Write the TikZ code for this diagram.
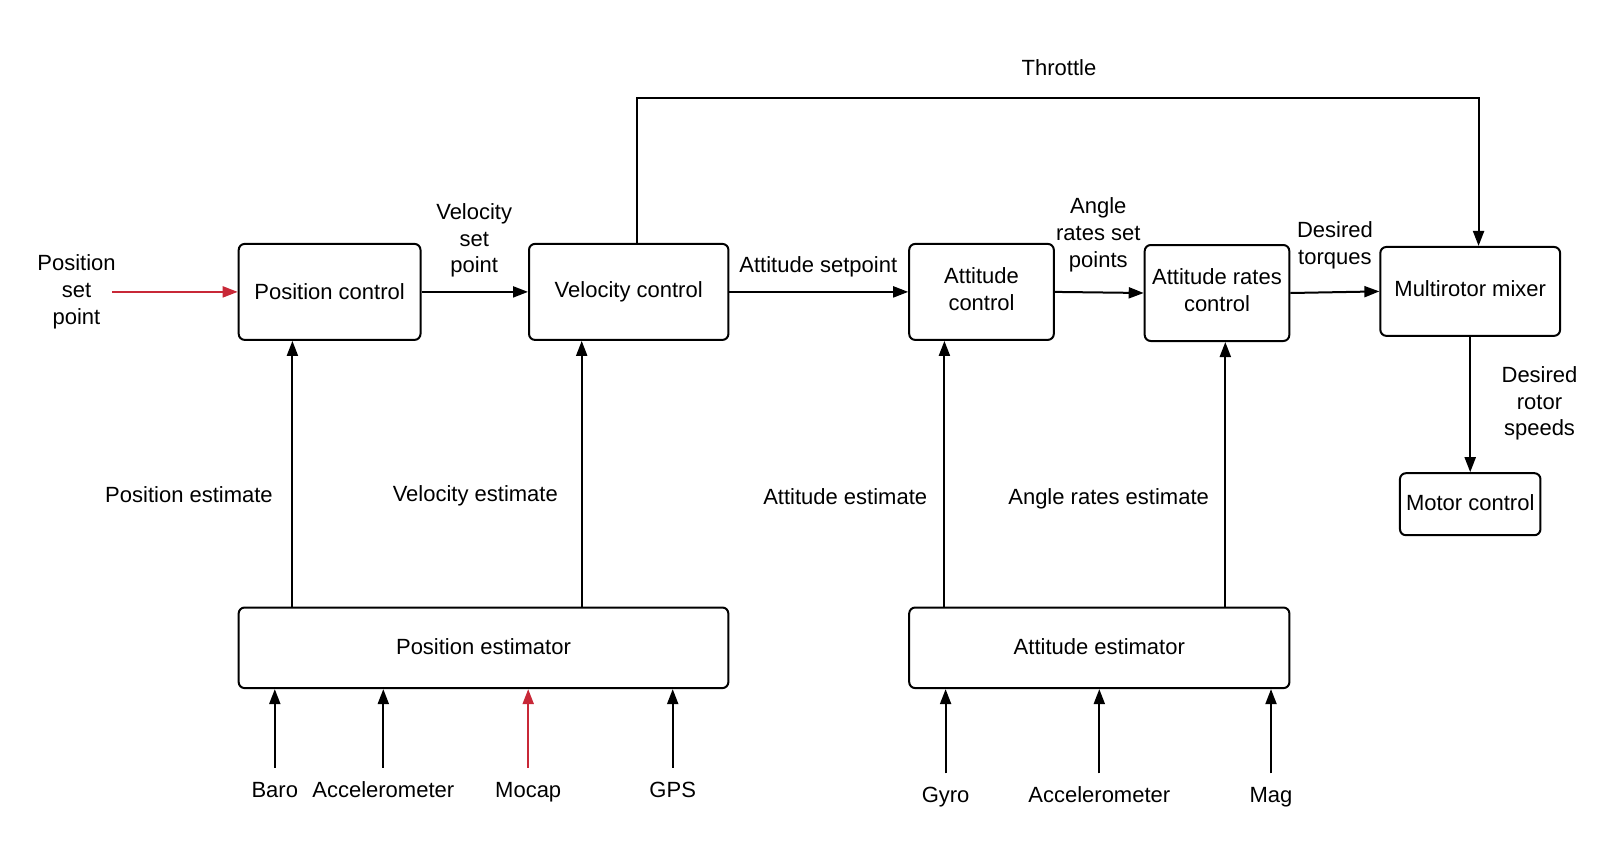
\documentclass[tikz,border=0pt]{standalone}
\usepackage{fontspec}
\setmainfont{Liberation Sans}
\usepackage{xcolor}
\usepackage{tikz}
\usetikzlibrary{arrows.meta,positioning,calc}
\definecolor{setred}{RGB}{200,40,55}

\begin{document}
\begin{tikzpicture}[
  x=0.5pt, y=-0.5pt,
  every node/.style={font=\fontsize{11}{13.4}\selectfont},
  box/.style={draw, line width=1pt, rectangle, rounded corners=3pt, align=center, inner sep=0pt},
  lbl/.style={align=center, inner sep=1pt},
  sensor/.style={anchor=base, text height=8pt, text depth=0pt, inner xsep=2pt, inner ysep=6.5pt},
  arr/.style={-{Triangle[length=7.5pt, width=5.5pt]}, line width=1pt},
  redarr/.style={arr, setred},
]
\useasboundingbox (0,0) rectangle (1620,862);

\node[box, minimum width=90.9pt, minimum height=48pt] (pc) at (329.6,291.9) {Position control};
\node[box, minimum width=99.7pt, minimum height=48pt] (vc) at (628.7,291.9) {Velocity control};
\node[box, minimum width=72.3pt, minimum height=48pt, text depth=3pt] (ac) at (981.5,291.9) {Attitude\\control};
\node[box, minimum width=72.3pt, minimum height=48pt, text depth=3pt] (arc) at (1217,293) {Attitude rates\\control};
\node[box, minimum width=89.85pt, minimum height=44.45pt, text depth=3pt] (mix) at (1470.2,291.4) {Multirotor mixer};
\node[box, minimum width=70.25pt, minimum height=31pt, text depth=2pt] (mot) at (1470.2,504.2) {Motor control};
\node[box, minimum width=244.85pt, minimum height=40.3pt, text depth=1pt] (pest) at (483.5,647.8) {Position estimator};
\node[box, minimum width=190.1pt, minimum height=40.3pt, text depth=1pt] (aest) at (1099.3,647.8) {Attitude estimator};

\node[lbl] (possp) at (76.5,291.8) {Position\\set\\point};
\node[lbl] (velsp) at (474.2,240.5) {Velocity\\set\\point};
\node[lbl] (attsp) at (818.3,266.5) {Attitude setpoint};
\node[lbl] (ratesp) at (1098.3,235) {Angle\\rates set\\points};
\node[lbl] (torq) at (1334.9,245.3) {Desired\\torques};
\node[lbl] (speeds) at (1539.5,403.5) {Desired\\rotor\\speeds};
\node[lbl] (thr) at (1059,67.2) {Throttle};
\node[lbl] (posest) at (189,495) {Position estimate};
\node[lbl] (velest) at (475.3,495.9) {Velocity estimate};
\node[lbl] (attest) at (845.2,497) {Attitude estimate};
\node[lbl] (rateest) at (1108.6,499) {Angle rates estimate};

\node[sensor] (baro) at (274.8,797.3) {Baro};
\node[sensor] (acc1) at (383.3,797.3) {Accelerometer};
\node[sensor] (mocap) at (528.2,797.3) {Mocap};
\node[sensor] (gps) at (672.7,797.3) {GPS};
\node[sensor] (gyro) at (945.6,802.7) {Gyro};
\node[sensor] (acc2) at (1099.3,802.7) {Accelerometer};
\node[sensor] (mag) at (1271,802.7) {Mag};

\coordinate (pfeed) at ([xshift=27.35pt]pc.south west);
\coordinate (vfeed) at ([xshift=26.85pt]vc.south west);
\coordinate (afeed) at ([xshift=18.1pt]ac.south west);
\coordinate (rfeed) at ([xshift=40.8pt]arc.south west);
\coordinate (throut) at ([xshift=54.65pt]vc.north west);
\coordinate (thrin) at ([xshift=49.6pt]mix.north west);

\draw[redarr] ($(pc.west -| possp.east)+(-3pt,0)$) -- (pc.west);
\draw[arr] (pc) -- (vc);
\draw[arr] (vc) -- (ac);
\draw[arr] (ac.east) -- (arc.west);
\draw[arr] (arc.east) -- (mix.west);
\draw[arr] (mix) -- (mot);
\draw[arr] (throut) -- ++(0,72.3pt) -| (thrin);
\draw[arr] (pfeed |- pest.north) -- (pfeed);
\draw[arr] (vfeed |- pest.north) -- (vfeed);
\draw[arr] (afeed |- aest.north) -- (afeed);
\draw[arr] (rfeed |- aest.north) -- (rfeed);
\foreach \s in {baro,acc1,gps} \draw[arr] (\s) -- (\s |- pest.south);
\draw[redarr] (mocap) -- (mocap |- pest.south);
\foreach \s in {gyro,acc2,mag} \draw[arr] (\s) -- (\s |- aest.south);
\end{tikzpicture}
\end{document}
